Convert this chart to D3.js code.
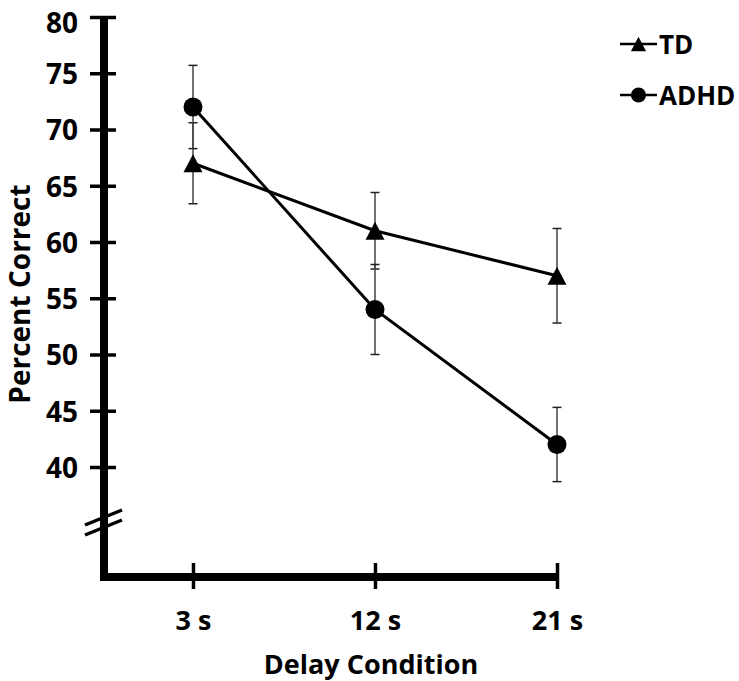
<!DOCTYPE html>
<html>
<head>
<meta charset="utf-8">
<script src="https://cdn.jsdelivr.net/npm/d3@7"></script>
<style>
  html, body { margin: 0; padding: 0; background: #fff; }
  svg { display: block; }
  text { font-family: "Open Sans", sans-serif; font-weight: 700; fill: #000; }
</style>
</head>
<body>
<svg id="chart" width="739" height="681"></svg>
<script>
// ---- data ----
const categories = ["3 s", "12 s", "21 s"];
const tdValues = [67, 61, 57];
const tdErrors = [3.6, 3.4, 4.2];
const adhdValues = [72, 54, 42];
const adhdErrors = [3.7, 4.0, 3.3];
const yTicks = [40, 45, 50, 55, 60, 65, 70, 75, 80];
const seriesNames = ["TD", "ADHD"];

const svg = d3.select("#chart");

const x = d3.scalePoint().domain(categories).range([193, 557]);
const y = d3.scaleLinear().domain([40, 80]).range([467, 17]);

const axisX = 104;     // y-axis line position
const axisY = 577;     // x-axis line position

// ---- y axis ----
svg.append("line")
  .attr("x1", axisX).attr("x2", axisX)
  .attr("y1", y(80)).attr("y2", axisY + 4)
  .attr("stroke", "#000").attr("stroke-width", 8);

const yAxis = d3.axisLeft(y).tickValues(yTicks).tickSize(0).tickPadding(0);
const gy = svg.append("g").attr("transform", `translate(${axisX},0)`).call(yAxis);
gy.select(".domain").remove();
gy.selectAll(".tick line").remove();
gy.selectAll(".tick").append("line")
  .attr("x1", -14).attr("x2", 12)
  .attr("stroke", "#000").attr("stroke-width", 3.5);
gy.selectAll(".tick text")
  .attr("x", -26).attr("y", d => d === 80 ? 5 : 0).attr("dy", "0.37em")
  .attr("font-size", 28).attr("font-family", "Open Sans").attr("font-weight", 700)
  .attr("fill", "#000").attr("text-anchor", "end");

// axis break marks
const brk = svg.append("g");
[0, 1].forEach(i => {
  const yc = y(40) + 51 + i * 10;
  brk.append("line")
    .attr("x1", axisX - 19).attr("y1", yc + 7)
    .attr("x2", axisX + 18).attr("y2", yc - 8)
    .attr("stroke", "#000").attr("stroke-width", 3.5);
});

// ---- x axis ----
svg.append("line")
  .attr("x1", axisX - 4).attr("x2", x(categories[2]) + 2)
  .attr("y1", axisY).attr("y2", axisY)
  .attr("stroke", "#000").attr("stroke-width", 8);

const xAxis = d3.axisBottom(x).tickSize(0).tickPadding(0);
const gx = svg.append("g").attr("transform", `translate(0,${axisY})`).call(xAxis);
gx.select(".domain").remove();
gx.selectAll(".tick line").remove();
gx.selectAll(".tick").append("line")
  .attr("y1", -14).attr("y2", 12)
  .attr("stroke", "#000").attr("stroke-width", 3.5);
gx.selectAll(".tick text")
  .attr("y", 53).attr("dy", 0)
  .attr("font-size", 27).attr("font-family", "Open Sans").attr("font-weight", 700)
  .attr("fill", "#000");

// axis titles
svg.append("text")
  .attr("x", 371).attr("y", 674)
  .attr("text-anchor", "middle").attr("font-size", 27)
  .text("Delay Condition");

svg.append("text")
  .attr("transform", "translate(30,294) rotate(-90)")
  .attr("text-anchor", "middle").attr("font-size", 28)
  .text("Percent Correct");

// ---- series ----
const series = [
  { name: seriesNames[0], values: tdValues, errors: tdErrors, marker: "triangle" },
  { name: seriesNames[1], values: adhdValues, errors: adhdErrors, marker: "circle" }
];

const line = d3.line().x((d, i) => x(categories[i])).y(d => y(d));

function drawMarker(g, type, cx, cy, scale) {
  if (type === "triangle") {
    const w = 19 * scale, h = 18 * scale;
    g.append("path")
      .attr("d", `M${cx},${cy - h / 2}L${cx + w / 2},${cy + h / 2}L${cx - w / 2},${cy + h / 2}Z`)
      .attr("fill", "#000");
  } else {
    g.append("circle").attr("cx", cx).attr("cy", cy).attr("r", 9.5 * scale).attr("fill", "#000");
  }
}

// error bars (drawn first, below markers)
series.forEach(s => {
  const g = svg.append("g");
  s.values.forEach((v, i) => {
    const cx = x(categories[i]);
    const top = y(v + s.errors[i]), bot = y(v - s.errors[i]);
    g.append("line").attr("x1", cx).attr("x2", cx).attr("y1", top).attr("y2", bot)
      .attr("stroke", "#444").attr("stroke-width", 1.5);
    [top, bot].forEach(yy => {
      g.append("line").attr("x1", cx - 4.5).attr("x2", cx + 4.5).attr("y1", yy).attr("y2", yy)
        .attr("stroke", "#222").attr("stroke-width", 1.5);
    });
  });
});

series.forEach(s => {
  svg.append("path").datum(s.values)
    .attr("d", line).attr("fill", "none")
    .attr("stroke", "#000").attr("stroke-width", 3);
});

series.forEach(s => {
  const g = svg.append("g");
  s.values.forEach((v, i) => drawMarker(g, s.marker, x(categories[i]), y(v), 1));
});

// ---- legend ----
const legendY = [44, 95];
series.forEach((s, i) => {
  const g = svg.append("g");
  const ly = legendY[i];
  g.append("line").attr("x1", 620).attr("x2", 657).attr("y1", ly).attr("y2", ly)
    .attr("stroke", "#000").attr("stroke-width", 2.5);
  drawMarker(g, s.marker, 638.5, ly, 0.8);
  g.append("text").attr("x", 659).attr("y", ly).attr("dy", "0.37em")
    .attr("font-size", 26).text(s.name);
});
</script>
</body>
</html>
